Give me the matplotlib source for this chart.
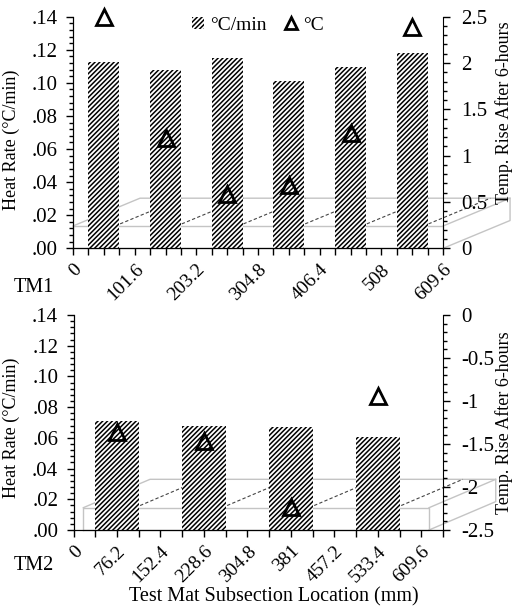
import numpy as np
import matplotlib
matplotlib.use('Agg')
import matplotlib.pyplot as plt
from matplotlib.ticker import MultipleLocator, FuncFormatter
from matplotlib.lines import Line2D
from matplotlib.patches import Patch

plt.rcParams['font.family'] = ['Liberation Serif', 'DejaVu Serif']
plt.rcParams['font.size'] = 13
plt.rcParams['hatch.linewidth'] = 1.1
plt.rcParams['hatch.color'] = 'black'

# TM1 : six 101.6 mm subsections
tm1_loc = [50.8, 152.4, 254.0, 355.6, 457.2, 558.8]
tm1_rate = [0.1126, 0.1078, 0.1148, 0.1013, 0.1094, 0.1182]
tm1_rise = [2.50, 1.19, 0.59, 0.68, 1.24, 2.39]
tm1_ticks = [0, 101.6, 203.2, 304.8, 406.4, 508, 609.6]
tm1_labels = ['0', '101.6', '203.2', '304.8', '406.4', '508', '609.6']

# TM2 : four 152.4 mm subsections
tm2_loc = [76.2, 228.6, 381.0, 533.4]
tm2_rate = [0.0712, 0.0677, 0.0673, 0.0608]
tm2_rise = [-1.36, -1.46, -2.23, -0.94]
tm2_ticks = [0, 76.2, 152.4, 228.6, 304.8, 381, 457.2, 533.4, 609.6]
tm2_labels = ['0', '76.2', '152.4', '228.6', '304.8', '381', '457.2', '533.4', '609.6']

HATCH = '///////'

fig = plt.figure(figsize=(5.14, 6.08), dpi=100)
ax1 = fig.add_axes([0.142, 0.5916, 0.720, 0.381])
ax2 = fig.add_axes([0.143, 0.1283, 0.719, 0.3536])


def frac_fmt(v, pos):
    return ('%.2f' % v).lstrip('0') if v >= 0 else '%.2f' % v


def draw_mat(ax, x0, x1, h, dx, dy, divs):
    # little gray perspective sketch of the test mat along the floor of the chart
    g = dict(color='#c4c4c4', lw=1.0, transform=ax.transAxes, clip_on=False, zorder=1)
    ax.add_line(Line2D([x0, x1, x1, x0, x0], [0, 0, h, h, 0], **g))
    ax.add_line(Line2D([x0, x0 + dx, x1 + dx, x1], [h, h + dy, h + dy, h], **g))
    ax.add_line(Line2D([x1, x1 + dx, x1 + dx], [0, dy, h + dy], **g))
    for xf in divs:
        ax.add_line(Line2D([xf, xf + dx], [h, h + dy], color='#444444', lw=0.8,
                           ls=(0, (3, 2)), transform=ax.transAxes, clip_on=False, zorder=1))


def setup(ax, xmax, xminor, ticks, labels, rlim, rate, loc, rise, width):
    ax.bar(loc, rate, width=width, color='white', edgecolor='black', linewidth=0,
           hatch=HATCH, zorder=2)
    ax.set_xlim(0, xmax)
    ax.set_ylim(0, 0.14)
    ax.yaxis.set_major_locator(MultipleLocator(0.02))
    ax.yaxis.set_minor_locator(MultipleLocator(0.004))
    ax.yaxis.set_major_formatter(FuncFormatter(frac_fmt))
    ax.set_xticks(ticks)
    ax.set_xticklabels(labels, rotation=45, ha='right', va='top', rotation_mode='anchor',
                       fontsize=14)
    ax.xaxis.set_minor_locator(MultipleLocator(xminor))
    ax.tick_params(axis='x', which='both', length=5, width=1, pad=4)
    ax.tick_params(axis='y', which='major', length=5, width=1, pad=6, labelsize=15)
    ax.tick_params(axis='y', which='minor', length=3, width=1)
    ax.spines['top'].set_visible(False)
    ax.spines['right'].set_visible(False)
    ax.set_ylabel('Heat Rate (°C/min)')

    ar = ax.twinx()
    ar.set_ylim(*rlim)
    ar.yaxis.set_major_locator(MultipleLocator(0.5))
    ar.yaxis.set_minor_locator(MultipleLocator(0.1))
    ar.yaxis.set_major_formatter(FuncFormatter(lambda v, p: ('%g' % v)))
    ar.tick_params(axis='y', which='major', length=5, width=1, pad=8, labelsize=15)
    ar.tick_params(axis='y', which='minor', length=3, width=1)
    ar.spines['top'].set_visible(False)
    ar.plot(loc, rise, ls='none', marker='^', ms=11, mfc='none', mec='black', mew=2,
            clip_on=False, zorder=5)
    ar.set_ylabel('Temp. Rise After 6-hours')
    return ar


ar1 = setup(ax1, 609.6, 25.4, tm1_ticks, tm1_labels, (0, 2.5), tm1_rate, tm1_loc, tm1_rise, 50.8)
ar2 = setup(ax2, 647.7, 38.1, tm2_ticks, tm2_labels, (-2.5, 0), tm2_rate, tm2_loc, tm2_rise, 76.2)

draw_mat(ax1, 0.0, 1.0, 0.0963, 0.181, 0.12, [0.1135 + k / 6 for k in range(6)])
draw_mat(ax2, 0.0265, 0.962, 0.1037, 0.1805, 0.132, [0.1664 + 0.2355 * k for k in range(4)])

ax1.yaxis.set_label_coords(-0.143, 0.47)
ar1.yaxis.set_label_coords(1.14, 0.584)
ax2.yaxis.set_label_coords(-0.145, 0.474)
ar2.yaxis.set_label_coords(1.14, 0.498)

handles = [Patch(facecolor='white', edgecolor='black', linewidth=0, hatch=HATCH),
           Line2D([], [], ls='none', marker='^', ms=8, mfc='none', mec='black', mew=2)]
ax1.legend(handles, ['°C/min', '°C'], loc='upper center', bbox_to_anchor=(0.50, 1.075),
           ncol=2, frameon=False, handlelength=0.6, handleheight=0.6, handletextpad=0.3,
           columnspacing=1.0, fontsize=14)

fig.text(0.027, 1 - 287 / 608, 'TM1', va='center', ha='left', fontsize=14.5)
fig.text(0.027, 1 - 565 / 608, 'TM2', va='center', ha='left', fontsize=14.5)
fig.text(0.533, 1 - 597 / 608, 'Test Mat Subsection Location (mm)', va='center', ha='center',
         fontsize=14.5)

fig.savefig('out.png', dpi=100)
